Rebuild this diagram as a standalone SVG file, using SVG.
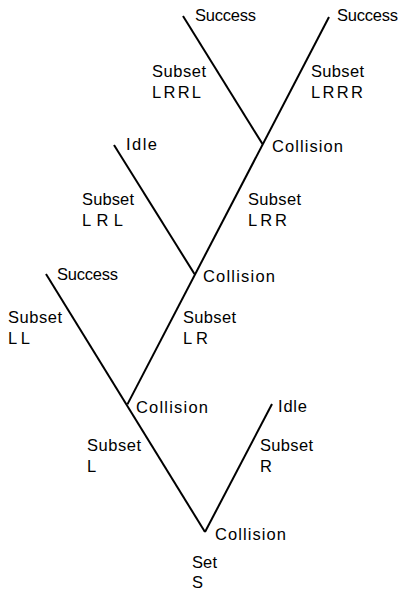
<svg xmlns="http://www.w3.org/2000/svg" width="398" height="590" viewBox="0 0 398 590">
  <style>
    .edge { stroke: #000; stroke-width: 2; fill: none; stroke-linecap: butt; }
    text { font-family: "Liberation Sans", Arial, Helvetica, sans-serif; font-size: 16.5px; fill: #000; }
  </style>
  <rect width="398" height="590" fill="#fff"/>

  <!-- tree edges -->
  <g id="connectors">
    <!-- main spine: LRRR leaf down to the L collision -->
    <line class="edge" x1="329" y1="17" x2="127.4" y2="404.4"/>
    <!-- LL leaf through L collision down to the root -->
    <line class="edge" x1="46" y1="274" x2="205" y2="532"/>
    <!-- root up to the R leaf -->
    <line class="edge" x1="205" y1="532" x2="272" y2="404"/>
    <!-- LRRL branch -->
    <line class="edge" x1="183" y1="16" x2="262.5" y2="144"/>
    <!-- LRL branch -->
    <line class="edge" x1="114" y1="145" x2="194.5" y2="274"/>
  </g>

  <!-- root: set S -->
  <g id="node-S">
    <text x="215" y="540" textLength="71" lengthAdjust="spacing">Collision</text>
    <text x="192" y="568" textLength="25" lengthAdjust="spacing">Set</text>
    <text x="192" y="588">S</text>
  </g>

  <g id="node-L">
    <text x="87" y="451" textLength="54" lengthAdjust="spacing">Subset</text>
    <text x="87" y="472">L</text>
    <text x="136" y="413" textLength="72" lengthAdjust="spacing">Collision</text>
  </g>

  <g id="node-R">
    <text x="260" y="451" textLength="53" lengthAdjust="spacing">Subset</text>
    <text x="260" y="472">R</text>
    <text x="278" y="412" textLength="29" lengthAdjust="spacing">Idle</text>
  </g>

  <g id="node-LL">
    <text x="8" y="323" textLength="54" lengthAdjust="spacing">Subset</text>
    <text x="8" y="344" textLength="22" lengthAdjust="spacing">LL</text>
    <text x="57" y="280" textLength="61" lengthAdjust="spacing">Success</text>
  </g>

  <g id="node-LR">
    <text x="183" y="323" textLength="53" lengthAdjust="spacing">Subset</text>
    <text x="183" y="344" textLength="25" lengthAdjust="spacing">LR</text>
    <text x="203" y="282" textLength="72" lengthAdjust="spacing">Collision</text>
  </g>

  <g id="node-LRL">
    <text x="82" y="205" textLength="52" lengthAdjust="spacing">Subset</text>
    <text x="82" y="226" textLength="41" lengthAdjust="spacing">LRL</text>
    <text x="126" y="150" textLength="31" lengthAdjust="spacing">Idle</text>
  </g>

  <g id="node-LRR">
    <text x="248" y="205" textLength="53" lengthAdjust="spacing">Subset</text>
    <text x="248" y="226" textLength="39" lengthAdjust="spacing">LRR</text>
    <text x="272" y="152" textLength="71" lengthAdjust="spacing">Collision</text>
  </g>

  <g id="node-LRRL">
    <text x="152" y="77" textLength="54" lengthAdjust="spacing">Subset</text>
    <text x="152" y="98" textLength="49" lengthAdjust="spacing">LRRL</text>
    <text x="195" y="21" textLength="61" lengthAdjust="spacing">Success</text>
  </g>

  <g id="node-LRRR">
    <text x="311" y="77" textLength="53" lengthAdjust="spacing">Subset</text>
    <text x="311" y="98" textLength="52" lengthAdjust="spacing">LRRR</text>
    <text x="337" y="21" textLength="61" lengthAdjust="spacing">Success</text>
  </g>
</svg>
